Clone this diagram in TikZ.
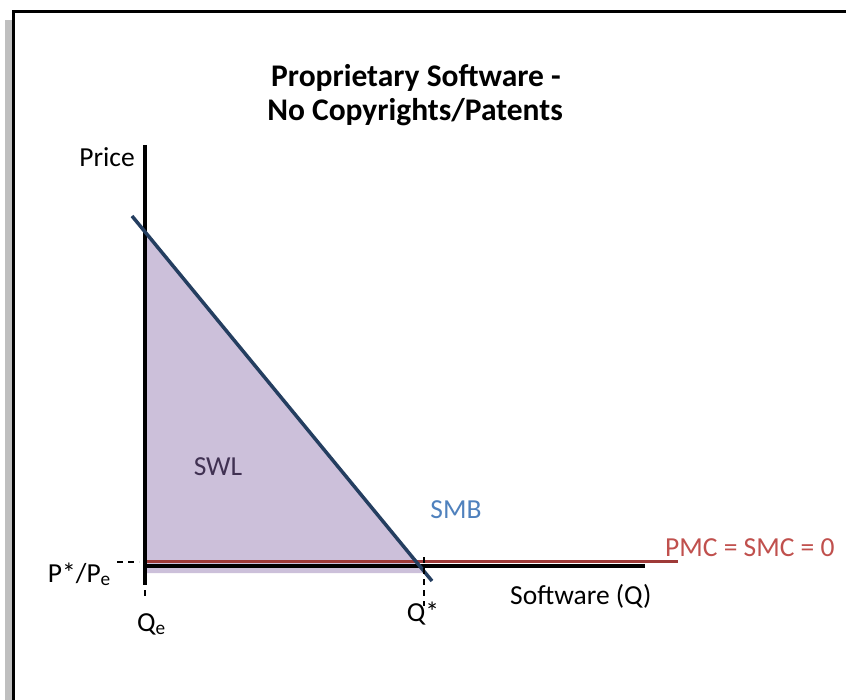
\documentclass[tikz,border=0pt]{standalone}
\usepackage{fontspec}
\setmainfont{Carlito}
\usetikzlibrary{positioning}

\definecolor{swlfill}{RGB}{204,192,218}
\definecolor{swltext}{RGB}{64,49,82}
\definecolor{smbline}{RGB}{36,62,96}
\definecolor{smbtext}{RGB}{79,129,189}
\definecolor{mcline}{RGB}{158,58,56}
\definecolor{mctext}{RGB}{192,80,77}

\tikzset{
  lbl/.style={font=\fontsize{27.5}{32}\selectfont, inner sep=0pt},
  ttl/.style={font=\fontsize{31.5}{36}\selectfont\bfseries, inner sep=0pt},
  axis/.style={line width=4.5pt},
  guide/.style={line width=1.5pt, dash pattern=on 6pt off 5pt}
}

\begin{document}
\begin{tikzpicture}[x=1pt,y=-1pt]
 \useasboundingbox (0,0) rectangle (846,700);
 % page frame with shadow
 \fill[black!25] (5,20) rectangle (13,700);
 \draw[line width=3pt] (13.5,700) -- (13.5,11.5) -- (846,11.5);

 \coordinate (o) at (145,566);
 \coordinate (ytop) at (145,145);
 \coordinate (ybot) at (145,585);
 \coordinate (xend) at (645,566);
 \coordinate (smbA) at (132,216);
 \coordinate (smbB) at (432,581);
 \coordinate (qstar) at (424,566);

 % social welfare loss
 \fill[swlfill] (145,234) -- (145,573) -- (425,573) -- cycle;

 % axes
 \draw[axis] (ytop) -- (ybot);
 \draw[axis] (o) -- (xend);

 % marginal cost and marginal benefit
 \draw[mcline, line width=3pt] (147,561) -- (678,561);
 \draw[smbline, line width=3.5pt] (smbA) -- (smbB);

 % guides to the axes
 \draw[guide] (qstar) ++(0,-9) -- ++(0,49);
 \draw[guide] (117,562) -- (139,562);
 \draw[guide] (145,590) -- (145,599);

 % labels
 \node[ttl, anchor=base] (t1) at (416,87) {Proprietary Software -};
 \node[ttl, anchor=base] (t2) at (415,121) {No Copyrights/Patents};
 \node[lbl, anchor=base east] (price) at (135,167) {Price};
 \node[lbl, anchor=base, text=swltext] (swl) at (218,475) {SWL};
 \node[lbl, anchor=base, text=smbtext] (smb) at (456,518) {SMB};
 \node[lbl, anchor=base west, text=mctext] (pmc) at (665,556) {PMC = SMC = 0};
 \node[lbl, anchor=base west] (sw) at (510,604) {Software (Q)};
 \node[lbl, anchor=base] (qs) at (423,621) {Q*};
 \node[lbl, anchor=base west] (qe) at (137,631) {Q\textsubscript{e}};
 \node[lbl, anchor=base east] (pe) at (111,582) {P*/P\textsubscript{e}};
\end{tikzpicture}
\end{document}
